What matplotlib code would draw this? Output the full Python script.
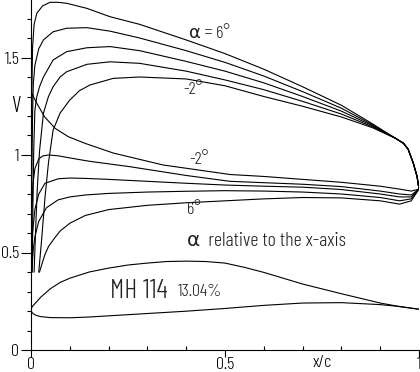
import matplotlib
matplotlib.use("Agg")
import matplotlib.pyplot as plt
from matplotlib.ticker import MultipleLocator, FixedLocator

# velocity distributions, MH 114, alpha = -2 ... 6 deg
# upper surface
up6_x = [0.000, 0.001, 0.002, 0.004, 0.008, 0.015, 0.030, 0.049, 0.070, 0.092, 0.144, 0.204, 0.28,
         0.40, 0.50, 0.60, 0.70, 0.80, 0.88, 0.94, 0.96, 0.972, 0.985, 0.995, 1.0]
up6_v = [0.40, 0.90, 1.30, 1.55, 1.67, 1.727, 1.765, 1.783, 1.783, 1.778, 1.752, 1.709, 1.67,
         1.59, 1.52, 1.44, 1.35, 1.255, 1.16, 1.085, 1.06, 1.03, 0.96, 0.89, 0.825]
up4_x = [0.001, 0.002, 0.004, 0.006, 0.010, 0.020, 0.032, 0.057, 0.092, 0.144, 0.204, 0.28,
         0.40, 0.50, 0.60, 0.70, 0.80, 0.88, 0.94, 0.96, 0.972, 0.985, 0.995, 1.0]
up4_v = [0.40, 0.85, 1.20, 1.367, 1.46, 1.545, 1.59, 1.632, 1.65, 1.653, 1.635, 1.60,
         1.535, 1.475, 1.405, 1.325, 1.24, 1.155, 1.085, 1.06, 1.03, 0.96, 0.89, 0.825]
up2_x = [0.003, 0.005, 0.007, 0.010, 0.015, 0.022, 0.032, 0.057, 0.092, 0.144, 0.204, 0.28,
         0.40, 0.50, 0.60, 0.70, 0.80, 0.88, 0.94, 0.96, 0.972, 0.985, 0.995, 1.0]
up2_v = [0.40, 0.75, 1.02, 1.23, 1.30, 1.35, 1.40, 1.487, 1.53, 1.55, 1.556, 1.535,
         1.48, 1.43, 1.37, 1.30, 1.225, 1.15, 1.085, 1.06, 1.03, 0.96, 0.89, 0.825]
up0_x = [0.008, 0.012, 0.016, 0.022, 0.032, 0.045, 0.057, 0.075, 0.092, 0.144, 0.204, 0.28,
         0.40, 0.50, 0.60, 0.70, 0.80, 0.88, 0.94, 0.96, 0.972, 0.985, 0.995, 1.0]
up0_v = [0.40, 0.62, 0.82, 1.02, 1.214, 1.30, 1.35, 1.40, 1.427, 1.465, 1.478, 1.47,
         1.43, 1.385, 1.335, 1.275, 1.21, 1.145, 1.085, 1.06, 1.03, 0.96, 0.89, 0.825]
upm2_x = [0.020, 0.028, 0.036, 0.045, 0.057, 0.075, 0.100, 0.125, 0.152, 0.212, 0.28,
          0.40, 0.50, 0.60, 0.70, 0.80, 0.88, 0.94, 0.96, 0.972, 0.985, 0.995, 1.0]
upm2_v = [0.40, 0.58, 0.78, 0.96, 1.128, 1.215, 1.282, 1.33, 1.359, 1.393, 1.40,
          1.39, 1.355, 1.30, 1.25, 1.195, 1.14, 1.085, 1.06, 1.03, 0.96, 0.89, 0.825]

# lower surface
lom2_x = [0.000, 0.001, 0.002, 0.015, 0.035, 0.062, 0.096, 0.139, 0.212, 0.34, 0.513,
          0.60, 0.70, 0.80, 0.90, 0.95, 0.98, 1.0]
lom2_v = [0.40, 1.10, 1.316, 1.265, 1.196, 1.137, 1.094, 1.06, 1.01, 0.949, 0.90,
          0.89, 0.875, 0.86, 0.84, 0.825, 0.815, 0.825]
lo0_x = [0.000, 0.002, 0.005, 0.010, 0.020, 0.030, 0.045, 0.070, 0.100, 0.150, 0.255, 0.40, 0.513,
         0.60, 0.70, 0.80, 0.90, 0.95, 0.98, 1.0]
lo0_v = [0.40, 0.70, 0.85, 0.93, 0.98, 0.995, 1.0, 0.996, 0.985, 0.968, 0.94, 0.895, 0.865,
         0.858, 0.85, 0.838, 0.815, 0.80, 0.795, 0.825]
lo2_x = [0.001, 0.004, 0.010, 0.020, 0.036, 0.070, 0.100, 0.140, 0.20, 0.30, 0.40, 0.50,
         0.60, 0.70, 0.80, 0.90, 0.95, 0.98, 1.0]
lo2_v = [0.40, 0.60, 0.72, 0.80, 0.855, 0.878, 0.882, 0.88, 0.875, 0.865, 0.855, 0.846,
         0.84, 0.835, 0.823, 0.80, 0.785, 0.785, 0.825]
lo4_x = [0.002, 0.006, 0.010, 0.020, 0.040, 0.070, 0.100, 0.140, 0.20, 0.30, 0.40, 0.50,
         0.60, 0.70, 0.80, 0.90, 0.95, 0.98, 1.0]
lo4_v = [0.40, 0.52, 0.58, 0.66, 0.73, 0.77, 0.785, 0.795, 0.803, 0.81, 0.814, 0.817,
         0.815, 0.81, 0.80, 0.782, 0.765, 0.775, 0.825]
lo6_x = [0.022, 0.028, 0.036, 0.045, 0.057, 0.075, 0.100, 0.140, 0.20, 0.30, 0.40, 0.50,
         0.60, 0.70, 0.80, 0.90, 0.95, 0.98, 1.0]
lo6_v = [0.40, 0.44, 0.49, 0.53, 0.564, 0.61, 0.65, 0.69, 0.72, 0.742, 0.755, 0.765,
         0.775, 0.782, 0.78, 0.765, 0.748, 0.765, 0.825]

# airfoil contour MH 114 (x/c, y/c)
foil_up_x = [0.0, 0.001, 0.0025, 0.005, 0.0125, 0.025, 0.05, 0.075, 0.10, 0.15, 0.20, 0.25, 0.30,
             0.35, 0.40, 0.45, 0.50, 0.55, 0.60, 0.70, 0.80, 0.90, 0.95, 1.0]
foil_up_y = [0.0, 0.004, 0.0075, 0.011, 0.019, 0.033, 0.055, 0.071, 0.082, 0.098, 0.108, 0.116, 0.121,
             0.125, 0.126, 0.125, 0.121, 0.110, 0.097, 0.067, 0.042, 0.018, 0.009, 0.002]
foil_lo_x = [0.0, 0.001, 0.0025, 0.005, 0.0125, 0.025, 0.05, 0.10, 0.15, 0.20, 0.30, 0.40, 0.50,
             0.60, 0.70, 0.80, 0.90, 0.95, 1.0]
foil_lo_y = [0.0, -0.003, -0.006, -0.009, -0.0135, -0.017, -0.0195, -0.020, -0.018, -0.015, -0.009,
             -0.003, 0.004, 0.012, 0.018, 0.019, 0.014, 0.009, 0.002]

# narrow, thin lettering like the original plotter font; DejaVu for the alpha
plt.rcParams['font.family'] = ['Barlow Condensed', 'DejaVu Sans']
plt.rcParams['font.weight'] = 300

W, H = 420, 372
fig = plt.figure(figsize=(W / 100, H / 100), dpi=100)
ax = fig.add_axes([31 / W, 22 / H, 388 / W, 350 / H])
ymax = 350 / 195
ax.set_xlim(0, 1)
ax.set_ylim(0, ymax)

for xs, vs in [(up6_x, up6_v), (up4_x, up4_v), (up2_x, up2_v), (up0_x, up0_v), (upm2_x, upm2_v),
               (lom2_x, lom2_v), (lo0_x, lo0_v), (lo2_x, lo2_v), (lo4_x, lo4_v), (lo6_x, lo6_v)]:
    ax.plot(xs, vs, color='black', lw=0.8)

# airfoil drawn to true scale below the curves
s = (388 / 1.0) / (350 / ymax)
y0 = 0.205
ax.plot(foil_up_x, [y0 + s * y for y in foil_up_y], color='black', lw=0.8)
ax.plot(foil_lo_x, [y0 + s * y for y in foil_lo_y], color='black', lw=0.8)

# axes look
for side in ['top', 'right']:
    ax.spines[side].set_visible(False)
ax.spines['left'].set_linewidth(0.8)
ax.spines['bottom'].set_linewidth(0.8)
ax.xaxis.set_major_locator(FixedLocator([0, 0.5, 1]))
ax.xaxis.set_minor_locator(MultipleLocator(0.1))
ax.yaxis.set_major_locator(FixedLocator([0, 0.5, 1, 1.5]))
ax.yaxis.set_minor_locator(MultipleLocator(0.1))
ax.set_xticklabels(['0', '0.5', '1'])
ax.set_yticklabels(['0', '0.5', '1', '1.5'])
ax.tick_params(axis='y', which='major', direction='out', length=7, width=0.8, labelsize=13, pad=1.5)
ax.tick_params(axis='y', which='minor', direction='out', length=3, width=0.8)
ax.tick_params(axis='x', which='major', direction='out', length=5, width=0.8, labelsize=13, pad=0)
ax.tick_params(axis='x', which='minor', direction='in', length=3, width=0.8)

ax.text(-0.039, 1.25, 'V', ha='center', va='center', fontsize=16, clip_on=False)
ax.text(0.75, -0.028, 'x/c', ha='center', va='top', fontsize=13, clip_on=False)

lab = {'fontsize': 13, 'color': '#222222'}
ax.text(0.459, 1.62, 'α = 6°', ha='center', va='center', **lab)
ax.text(0.418, 1.333, '-2°', ha='center', va='center', **lab)
ax.text(0.433, 0.974, '-2°', ha='center', va='center', **lab)
ax.text(0.42, 0.718, '6°', ha='center', va='center', **lab)
ax.text(0.402, 0.56, 'α  relative to the x-axis', ha='left', va='center', fontsize=14.5, color='#222222')
ax.text(0.203, 0.305, 'MH 114', ha='left', va='center', fontsize=20, color='#222222')
ax.text(0.378, 0.297, '13.04%', ha='left', va='center', **lab)

fig.savefig('out.png', dpi=100)
